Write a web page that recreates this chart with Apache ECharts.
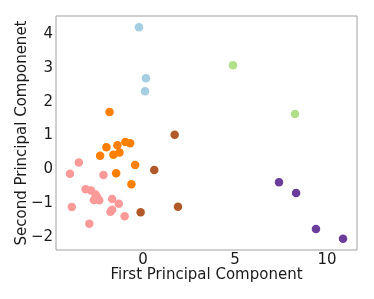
<!DOCTYPE html>
<html><head><meta charset="utf-8">
<script src="https://cdn.jsdelivr.net/npm/echarts@6/dist/echarts.min.js"></script>
<style>html,body{margin:0;padding:0;background:#fff}#c{width:374px;height:299px}</style>
</head><body><div id="c"></div>
<script>
var xTicks = [0, 5, 10];
var yTicks = [-2, -1, 0, 1, 2, 3, 4];
var lightBlue = [[-0.22, 4.21], [0.16, 2.70], [0.11, 2.31]];
var lightGreen = [[4.89, 3.08], [8.26, 1.64]];
var purple = [[7.39, -0.38], [8.32, -0.70], [9.40, -1.77], [10.87, -2.06]];
var brown = [[1.72, 1.02], [0.61, -0.02], [-0.13, -1.27], [1.90, -1.11]];
var orange = [[-1.82, 1.70], [-1.99, 0.65], [-1.39, 0.71], [-0.96, 0.81], [-0.70, 0.77],
  [-2.33, 0.40], [-1.61, 0.43], [-1.28, 0.50], [-0.43, 0.13], [-1.46, -0.12], [-0.63, -0.44]];
var pink = [[-3.49, 0.20], [-3.97, -0.13], [-2.15, -0.17], [-3.12, -0.59], [-2.82, -0.63],
  [-2.58, -0.75], [-2.50, -0.82], [-2.67, -0.91], [-2.38, -0.92], [-1.68, -0.88], [-1.32, -1.02],
  [-1.68, -1.20], [-1.77, -1.26], [-1.00, -1.39], [-3.87, -1.12], [-2.92, -1.61]];
var xTitle = 'First Principal Component';
var yTitle = 'Second Principal Componenet';

var groups = [
  [lightBlue, '#a6cee3'], [lightGreen, '#b2df8a'], [pink, '#fb9a99'],
  [orange, '#ff7f00'], [brown, '#b15928'], [purple, '#6a3d9a']
];
var font = 'DejaVu Sans';
var fmt = function (v) { return String(v).replace('-', '\u2212'); };
var chart = echarts.init(document.getElementById('c'), null, {renderer: 'canvas'});
chart.setOption({
  animation: false,
  grid: {left: 56, right: 17, top: 16, bottom: 49, show: true, borderColor: '#a0a0a0', borderWidth: 1},
  xAxis: {
    type: 'value', min: -4.73, max: 11.63,
    splitLine: {show: false}, axisLine: {show: false}, axisTick: {show: false},
    axisLabel: {customValues: xTicks, formatter: fmt, color: '#1a1a1a', fontFamily: font, fontSize: 15, margin: 3},
    name: xTitle, nameLocation: 'middle', nameGap: 18, nameMoveOverlap: false,
    nameTextStyle: {color: '#1a1a1a', fontFamily: font, fontSize: 15}
  },
  yAxis: {
    type: 'value', min: -2.39, max: 4.54,
    splitLine: {show: false}, axisLine: {show: false}, axisTick: {show: false},
    axisLabel: {customValues: yTicks, formatter: fmt, color: '#1a1a1a', fontFamily: font, fontSize: 15, margin: 3},
    name: yTitle, nameLocation: 'middle', nameGap: 26, nameMoveOverlap: false,
    nameTextStyle: {color: '#1a1a1a', fontFamily: font, fontSize: 15}
  },
  series: groups.map(function (g) {
    return {type: 'scatter', data: g[0], symbolSize: 8.5, itemStyle: {color: g[1], opacity: 1}};
  })
});
</script></body></html>
